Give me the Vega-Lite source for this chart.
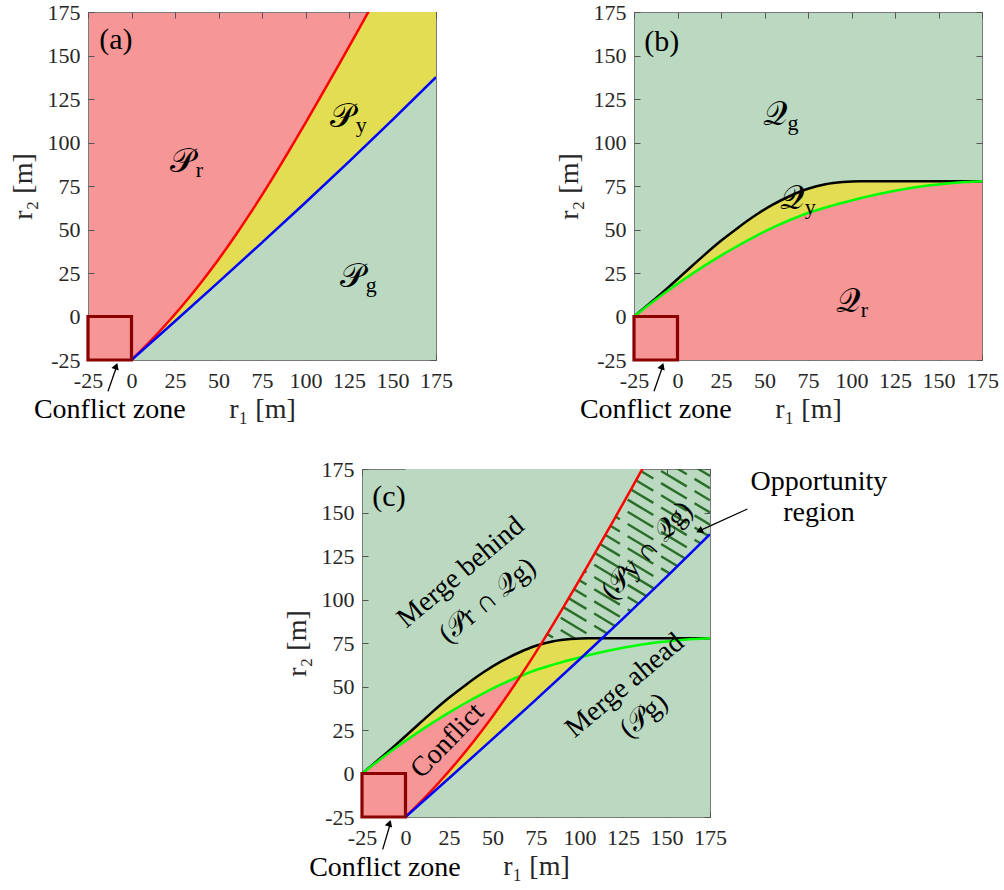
{
  "$schema": "https://vega.github.io/schema/vega-lite/v6.json",
  "background": "white",
  "padding": {"left": 8, "top": 0, "right": 0, "bottom": 0},
  "config": {
    "font": "Liberation Serif, Times New Roman, DejaVu Serif, serif",
    "view": {"stroke": "#7a7a7a", "strokeWidth": 1},
    "text": {"font": "Liberation Serif, Times New Roman, DejaVu Serif, serif", "color": "black"},
    "axis": {"domain": false, "grid": false, "labelFont": "Liberation Serif, Times New Roman, DejaVu Serif, serif", "labelFontSize": 22, "labelColor": "#262626", "titleFont": "Liberation Serif, Times New Roman, DejaVu Serif, serif", "titleFontSize": 28, "titleFontWeight": "normal", "titleColor": "#262626", "tickColor": "#555555", "tickSize": -6, "labelPadding": 16, "labelFlush": false, "labelOverlap": false, "labelExpr": "datum.value + ''"},
    "axisY": {"labelPadding": 14, "titlePadding": 10}
  },
  "datasets": {
    "red": [{"x":0,"y":-25},{"x":10,"y":-15},{"x":20,"y":-4.3},{"x":30,"y":7.2},{"x":40,"y":19.6},{"x":50,"y":32.8},{"x":60,"y":47},{"x":70,"y":62},{"x":80,"y":77.8},{"x":90,"y":94.3},{"x":100,"y":111.3},{"x":110,"y":128.6},{"x":120,"y":146.2},{"x":130,"y":164},{"x":140,"y":182},{"x":150,"y":200},{"x":160,"y":218},{"x":170,"y":236},{"x":175,"y":245}],
    "blue": [{"x":0,"y":-25},{"x":25,"y":-2.75},{"x":50,"y":19.75},{"x":75,"y":42.5},{"x":100,"y":65.5},{"x":125,"y":89},{"x":150,"y":113},{"x":175,"y":137.5}],
    "black": [{"x":-25,"y":0},{"x":-15,"y":8.3},{"x":-5,"y":17},{"x":5,"y":26},{"x":15,"y":35},{"x":25,"y":43.5},{"x":35,"y":51.2},{"x":45,"y":58.3},{"x":55,"y":64.4},{"x":65,"y":69.4},{"x":75,"y":73.4},{"x":85,"y":76},{"x":95,"y":77.3},{"x":105,"y":77.8},{"x":175,"y":77.8}],
    "green": [{"x":-25,"y":0},{"x":-15,"y":7.8},{"x":-5,"y":15.2},{"x":5,"y":22.2},{"x":15,"y":28.8},{"x":25,"y":35},{"x":35,"y":40.8},{"x":45,"y":46.2},{"x":55,"y":51.2},{"x":65,"y":55.6},{"x":75,"y":59.5},{"x":85,"y":62.6},{"x":95,"y":65.4},{"x":105,"y":68},{"x":115,"y":70.3},{"x":125,"y":72.3},{"x":135,"y":74},{"x":145,"y":75.4},{"x":155,"y":76.5},{"x":165,"y":77.3},{"x":175,"y":77.8}],
    "pinkC": [{"x":-25,"hi":0,"lo":-25},{"x":-15,"hi":7.8,"lo":-25},{"x":-5,"hi":15.2,"lo":-25},{"x":0,"hi":18.7,"lo":-25},{"x":5,"hi":22.2,"lo":-20.1},{"x":10,"hi":25.5,"lo":-15},{"x":15,"hi":28.8,"lo":-9.7},{"x":20,"hi":31.9,"lo":-4.3},{"x":25,"hi":35,"lo":1.4},{"x":30,"hi":37.9,"lo":7.2},{"x":35,"hi":40.8,"lo":13.3},{"x":40,"hi":43.5,"lo":19.6},{"x":45,"hi":46.2,"lo":26.1},{"x":50,"hi":48.7,"lo":32.8},{"x":55,"hi":51.2,"lo":39.8},{"x":60,"hi":53.4,"lo":47},{"x":65,"hi":55.6,"lo":54.5},{"x":66,"hi":56,"lo":56}],
    "hatch": [{"x":70,"x2":175,"y":80,"y2":17},{"x":70,"x2":175,"y":87,"y2":24},{"x":70,"x2":175,"y":94,"y2":31},{"x":70,"x2":175,"y":101,"y2":38},{"x":70,"x2":175,"y":108,"y2":45},{"x":70,"x2":175,"y":115,"y2":52},{"x":70,"x2":175,"y":122,"y2":59},{"x":70,"x2":175,"y":129,"y2":66},{"x":70,"x2":175,"y":136,"y2":73},{"x":70,"x2":175,"y":143,"y2":80},{"x":70,"x2":175,"y":150,"y2":87},{"x":70,"x2":175,"y":157,"y2":94},{"x":70,"x2":175,"y":164,"y2":101},{"x":70,"x2":175,"y":171,"y2":108},{"x":70,"x2":175,"y":178,"y2":115},{"x":70,"x2":175,"y":185,"y2":122},{"x":70,"x2":175,"y":192,"y2":129},{"x":70,"x2":175,"y":199,"y2":136},{"x":70,"x2":175,"y":206,"y2":143},{"x":70,"x2":175,"y":213,"y2":150},{"x":70,"x2":175,"y":220,"y2":157},{"x":70,"x2":175,"y":227,"y2":164},{"x":70,"x2":175,"y":234,"y2":171}],
    "box": [{"x":-25,"x2":0,"y":-25,"y2":0}],
    "czArrow": [{"x":-13.5,"y":-43,"x2":-8.3,"y2":-28}],
    "czHead": [{"x":-8.8,"y":-28.5}],
    "czText": [{"x":-12.5,"y":-58.5,"t":"Conflict zone"}],
    "labA": [{"x":29.5,"y":89,"m":"𝒫","s":"r"},{"x":121.4,"y":114.7,"m":"𝒫","s":"y"},{"x":127.1,"y":22.6,"m":"𝒫","s":"g"}],
    "labB": [{"x":55.8,"y":115.7,"m":"𝒬","s":"g"},{"x":65.7,"y":67.3,"m":"𝒬","s":"y"},{"x":97.8,"y":8.2,"m":"𝒬","s":"r"}]
  },
  "spacing": 32,
  "vconcat": [
    {
      "spacing": 101,
      "hconcat": [
        {
          "width": 348, "height": 348,
          "view": {"fill": "#F79696"},
          "resolve": {"axis": {"x": "independent", "y": "independent"}},
          "layer": [
            {
              "encoding": {
                "x": {"field": "x", "type": "quantitative", "scale": {"domain": [-25, 175], "nice": false, "zero": false}, "axis": {"values": [-25,0,25,50,75,100,125,150,175], "title": "r₁ [m]"}},
                "y": {"field": "y", "type": "quantitative", "scale": {"domain": [-25, 175], "nice": false, "zero": false}, "axis": {"values": [-25,0,25,50,75,100,125,150,175], "title": "r₂ [m]"}}
              },
              "layer": [
                {"data": {"name": "red"}, "mark": {"type": "area", "interpolate": "monotone", "clip": true, "color": "#E2DD52"}, "encoding": {"y2": {"datum": -25}}},
                {"data": {"name": "blue"}, "mark": {"type": "area", "interpolate": "monotone", "clip": true, "color": "#BAD9C0"}, "encoding": {"y2": {"datum": -25}}},
                {"data": {"name": "red"}, "mark": {"type": "line", "interpolate": "monotone", "clip": true, "color": "#FF0000", "strokeWidth": 2.5}, "encoding": {}},
                {"data": {"name": "blue"}, "mark": {"type": "line", "interpolate": "monotone", "clip": true, "color": "#0000FF", "strokeWidth": 2.5}, "encoding": {}},
                {"data": {"name": "box"}, "mark": {"type": "rect", "fill": "#F79696", "stroke": "#8B0000", "strokeWidth": 3.2}, "encoding": {"x2": {"field": "x2"}, "y2": {"field": "y2"}}},
                {"data": {"name": "czArrow"}, "mark": {"type": "rule", "color": "black", "strokeWidth": 1.3}, "encoding": {"x2": {"field": "x2"}, "y2": {"field": "y2"}}},
                {"data": {"name": "czHead"}, "mark": {"type": "point", "shape": "triangle-up", "angle": 20, "size": 60, "filled": true, "color": "black", "opacity": 1}},
                {"data": {"name": "czText"}, "mark": {"type": "text", "fontSize": 28, "align": "center", "baseline": "alphabetic"}, "encoding": {"text": {"field": "t"}}},
                {"data": {"values": [{"x": -9, "y": 159, "t": "(a)"}]}, "mark": {"type": "text", "fontSize": 30, "align": "center", "baseline": "middle"}, "encoding": {"text": {"field": "t"}}},
                {"data": {"name": "labA"}, "mark": {"type": "text", "fontSize": 34, "align": "center", "baseline": "middle", "font": "DejaVu Serif"}, "encoding": {"text": {"field": "m"}}},
                {"data": {"name": "labA"}, "mark": {"type": "text", "fontSize": 22, "align": "left", "baseline": "alphabetic", "dx": 13, "dy": 15}, "encoding": {"text": {"field": "s"}}}
              ]
            },
            {
              "data": {"name": "box"},
              "mark": {"type": "point", "opacity": 0},
              "encoding": {
                "x": {"field": "x", "type": "quantitative", "scale": {"domain": [-25, 175], "nice": false, "zero": false}, "axis": {"orient": "top", "labels": false, "title": null, "values": [-25,0,25,50,75,100,125,150,175]}},
                "y": {"field": "y", "type": "quantitative", "scale": {"domain": [-25, 175], "nice": false, "zero": false}, "axis": {"orient": "right", "labels": false, "title": null, "values": [-25,0,25,50,75,100,125,150,175]}}
              }
            }
          ]
        },
        {
          "width": 348, "height": 348,
          "view": {"fill": "#BAD9C0"},
          "resolve": {"axis": {"x": "independent", "y": "independent"}},
          "layer": [
            {
              "encoding": {
                "x": {"field": "x", "type": "quantitative", "scale": {"domain": [-25, 175], "nice": false, "zero": false}, "axis": {"values": [-25,0,25,50,75,100,125,150,175], "title": "r₁ [m]"}},
                "y": {"field": "y", "type": "quantitative", "scale": {"domain": [-25, 175], "nice": false, "zero": false}, "axis": {"values": [-25,0,25,50,75,100,125,150,175], "title": "r₂ [m]"}}
              },
              "layer": [
                {"data": {"name": "black"}, "mark": {"type": "area", "interpolate": "monotone", "clip": true, "color": "#E2DD52"}, "encoding": {"y2": {"datum": -25}}},
                {"data": {"name": "green"}, "mark": {"type": "area", "interpolate": "monotone", "clip": true, "color": "#F79696"}, "encoding": {"y2": {"datum": -25}}},
                {"data": {"name": "black"}, "mark": {"type": "line", "interpolate": "monotone", "clip": true, "color": "#000000", "strokeWidth": 2.5}, "encoding": {}},
                {"data": {"name": "green"}, "mark": {"type": "line", "interpolate": "monotone", "clip": true, "color": "#00FF00", "strokeWidth": 2.5}, "encoding": {}},
                {"data": {"name": "box"}, "mark": {"type": "rect", "fill": "#F79696", "stroke": "#8B0000", "strokeWidth": 3.2}, "encoding": {"x2": {"field": "x2"}, "y2": {"field": "y2"}}},
                {"data": {"name": "czArrow"}, "mark": {"type": "rule", "color": "black", "strokeWidth": 1.3}, "encoding": {"x2": {"field": "x2"}, "y2": {"field": "y2"}}},
                {"data": {"name": "czHead"}, "mark": {"type": "point", "shape": "triangle-up", "angle": 20, "size": 60, "filled": true, "color": "black", "opacity": 1}},
                {"data": {"name": "czText"}, "mark": {"type": "text", "fontSize": 28, "align": "center", "baseline": "alphabetic"}, "encoding": {"text": {"field": "t"}}},
                {"data": {"values": [{"x": -9, "y": 158, "t": "(b)"}]}, "mark": {"type": "text", "fontSize": 30, "align": "center", "baseline": "middle"}, "encoding": {"text": {"field": "t"}}},
                {"data": {"name": "labB"}, "mark": {"type": "text", "fontSize": 34, "align": "center", "baseline": "middle", "font": "DejaVu Serif"}, "encoding": {"text": {"field": "m"}}},
                {"data": {"name": "labB"}, "mark": {"type": "text", "fontSize": 22, "align": "left", "baseline": "alphabetic", "dx": 13, "dy": 15}, "encoding": {"text": {"field": "s"}}}
              ]
            },
            {
              "data": {"name": "box"},
              "mark": {"type": "point", "opacity": 0},
              "encoding": {
                "x": {"field": "x", "type": "quantitative", "scale": {"domain": [-25, 175], "nice": false, "zero": false}, "axis": {"orient": "top", "labels": false, "title": null, "values": [-25,0,25,50,75,100,125,150,175]}},
                "y": {"field": "y", "type": "quantitative", "scale": {"domain": [-25, 175], "nice": false, "zero": false}, "axis": {"orient": "right", "labels": false, "title": null, "values": [-25,0,25,50,75,100,125,150,175]}}
              }
            }
          ]
        }
      ]
    },
    {
      "spacing": 20,
      "hconcat": [
        {"width": 174, "height": 10, "view": {"stroke": null}, "data": {"values": []}, "mark": "point"},
        {
          "width": 348, "height": 348,
          "view": {"fill": "#BAD9C0"},
          "resolve": {"axis": {"x": "independent", "y": "independent"}},
          "layer": [
            {
              "encoding": {
                "x": {"field": "x", "type": "quantitative", "scale": {"domain": [-25, 175], "nice": false, "zero": false}, "axis": {"values": [-25,0,25,50,75,100,125,150,175], "title": "r₁ [m]"}},
                "y": {"field": "y", "type": "quantitative", "scale": {"domain": [-25, 175], "nice": false, "zero": false}, "axis": {"values": [-25,0,25,50,75,100,125,150,175], "title": "r₂ [m]"}}
              },
              "layer": [
                {"data": {"name": "hatch"}, "mark": {"type": "rule", "clip": true, "color": "#2A6E2A", "strokeWidth": 2.4, "strokeDash": [30, 9]}, "encoding": {"x2": {"field": "x2"}, "y2": {"field": "y2"}}},
                {"data": {"name": "red"}, "mark": {"type": "area", "interpolate": "monotone", "clip": true, "color": "#BAD9C0"}, "encoding": {"y2": {"datum": 175}}},
                {"data": {"name": "black"}, "mark": {"type": "area", "interpolate": "monotone", "clip": true, "color": "#E2DD52"}, "encoding": {"y2": {"datum": -25}}},
                {"data": {"name": "blue"}, "mark": {"type": "area", "interpolate": "monotone", "clip": true, "color": "#BAD9C0"}, "encoding": {"y2": {"datum": -25}}},
                {"data": {"name": "pinkC"}, "mark": {"type": "area", "interpolate": "monotone", "clip": true, "color": "#F79696"}, "encoding": {"y": {"field": "hi", "type": "quantitative"}, "y2": {"field": "lo"}}},
                {"data": {"name": "black"}, "mark": {"type": "line", "interpolate": "monotone", "clip": true, "color": "#000000", "strokeWidth": 2.5}, "encoding": {}},
                {"data": {"name": "green"}, "mark": {"type": "line", "interpolate": "monotone", "clip": true, "color": "#00FF00", "strokeWidth": 2.5}, "encoding": {}},
                {"data": {"name": "red"}, "mark": {"type": "line", "interpolate": "monotone", "clip": true, "color": "#FF0000", "strokeWidth": 2.5}, "encoding": {}},
                {"data": {"name": "blue"}, "mark": {"type": "line", "interpolate": "monotone", "clip": true, "color": "#0000FF", "strokeWidth": 2.5}, "encoding": {}},
                {"data": {"name": "box"}, "mark": {"type": "rect", "fill": "#F79696", "stroke": "#8B0000", "strokeWidth": 3.2}, "encoding": {"x2": {"field": "x2"}, "y2": {"field": "y2"}}},
                {"data": {"values": [{"x": -13.1, "y": -43.6, "x2": -8.5, "y2": -28}]}, "mark": {"type": "rule", "color": "black", "strokeWidth": 1.3}, "encoding": {"x2": {"field": "x2"}, "y2": {"field": "y2"}}},
                {"data": {"values": [{"x": -9.2, "y": -28.5}]}, "mark": {"type": "point", "shape": "triangle-up", "angle": 17, "size": 60, "filled": true, "color": "black", "opacity": 1}},
                {"data": {"values": [{"x": -11.8, "y": -59, "t": "Conflict zone"}]}, "mark": {"type": "text", "fontSize": 28, "align": "center", "baseline": "alphabetic"}, "encoding": {"text": {"field": "t"}}},
                {"data": {"values": [{"x": -9.5, "y": 159, "t": "(c)"}]}, "mark": {"type": "text", "fontSize": 30, "align": "center", "baseline": "middle"}, "encoding": {"text": {"field": "t"}}},
                {"data": {"values": [{"x": 31.8, "y": 115.5, "t": "Merge behind"}, {"x": 47.2, "y": 99.2, "t": "(𝒫r ∩ 𝒬g)"}, {"x": 126, "y": 50.4, "t": "Merge ahead"}, {"x": 137.1, "y": 33.1, "t": "(𝒫g)"}]}, "mark": {"type": "text", "fontSize": 28, "align": "center", "baseline": "middle", "angle": 320}, "encoding": {"text": {"field": "t"}}},
                {"data": {"values": [{"x": 24.2, "y": 18.7, "t": "Conflict"}]}, "mark": {"type": "text", "fontSize": 28, "align": "center", "baseline": "middle", "angle": 314}, "encoding": {"text": {"field": "t"}}},
                {"data": {"values": [{"x": 139, "y": 128, "t": "(𝒫y ∩ 𝒬g)"}]}, "mark": {"type": "text", "fontSize": 28, "align": "center", "baseline": "middle", "angle": 312}, "encoding": {"text": {"field": "t"}}},
                {"data": {"values": [{"x": 237.6, "y": 162.9, "t": "Opportunity"}, {"x": 237.6, "y": 145.3, "t": "region"}]}, "mark": {"type": "text", "fontSize": 28, "align": "center", "baseline": "alphabetic"}, "encoding": {"text": {"field": "t"}}},
                {"data": {"values": [{"x": 196.5, "y": 152, "x2": 168.5, "y2": 139.3}]}, "mark": {"type": "rule", "color": "black", "strokeWidth": 1.3}, "encoding": {"x2": {"field": "x2"}, "y2": {"field": "y2"}}},
                {"data": {"values": [{"x": 168.9, "y": 139.4}]}, "mark": {"type": "point", "shape": "triangle-up", "angle": 246, "size": 60, "filled": true, "color": "black", "opacity": 1}}
              ]
            },
            {
              "data": {"name": "box"},
              "mark": {"type": "point", "opacity": 0},
              "encoding": {
                "x": {"field": "x", "type": "quantitative", "scale": {"domain": [-25, 175], "nice": false, "zero": false}, "axis": {"orient": "top", "labels": false, "title": null, "values": [-25,0,25,50,75,100,125,150,175]}},
                "y": {"field": "y", "type": "quantitative", "scale": {"domain": [-25, 175], "nice": false, "zero": false}, "axis": {"orient": "right", "labels": false, "title": null, "values": [-25,0,25,50,75,100,125,150,175]}}
              }
            }
          ]
        }
      ]
    }
  ]
}
